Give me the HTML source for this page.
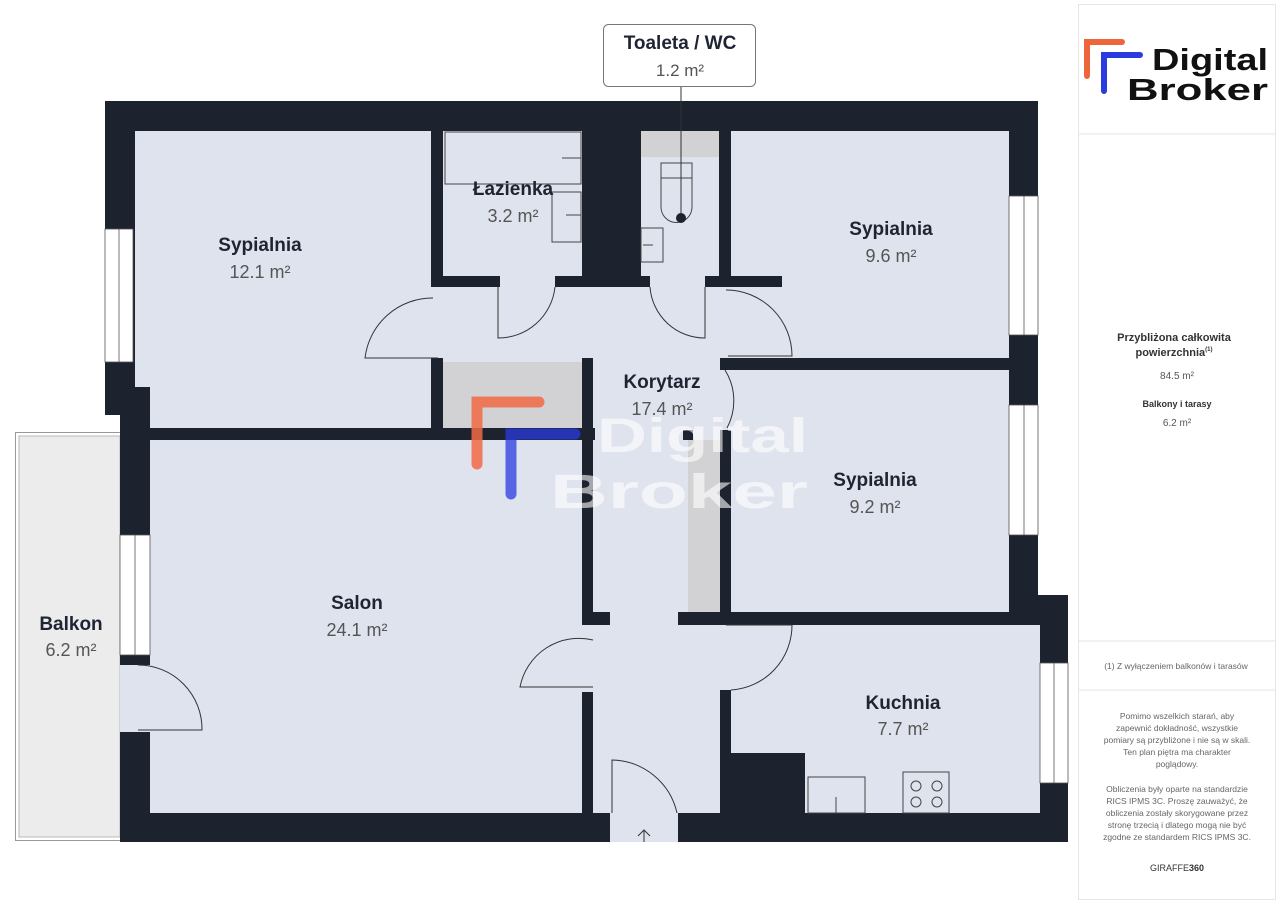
<!DOCTYPE html>
<html><head><meta charset="utf-8"><style>
html,body{margin:0;padding:0;background:#fff;}
body{width:1280px;height:905px;overflow:hidden;font-family:"Liberation Sans",sans-serif;}
</style></head><body>
<svg width="1280" height="905" viewBox="0 0 1280 905" xmlns="http://www.w3.org/2000/svg" font-family="Liberation Sans, sans-serif">
<rect width="1280" height="905" fill="#fff"/>
<!-- right panel -->
<rect x="1078.5" y="4.5" width="197" height="895" fill="#fff" stroke="#e6e6e6"/>
<line x1="1079" y1="134" x2="1275" y2="134" stroke="#e6e6e6"/>
<line x1="1079" y1="641" x2="1275" y2="641" stroke="#e6e6e6"/>
<line x1="1079" y1="690" x2="1275" y2="690" stroke="#e6e6e6"/>
<path d="M1087 76 V42 H1122" stroke="#f0643c" stroke-width="6" fill="none" stroke-linecap="round"/>
<path d="M1104 91 V55 H1140" stroke="#2a3be0" stroke-width="6" fill="none" stroke-linecap="round"/>
<text x="1152" y="70" font-size="31" font-weight="bold" fill="#111" textLength="116" lengthAdjust="spacingAndGlyphs">Digital</text>
<text x="1127" y="100" font-size="31" font-weight="bold" fill="#111" textLength="141" lengthAdjust="spacingAndGlyphs">Broker</text>
<g text-anchor="middle" fill="#333">
<text x="1174" y="341" font-size="11" font-weight="bold">Przybliżona całkowita</text>
<text x="1174" y="356" font-size="11" font-weight="bold">powierzchnia<tspan font-size="6" dy="-5">(1)</tspan></text>
<text x="1177" y="379" font-size="10" fill="#555">84.5 m²</text>
<text x="1177" y="407" font-size="9" font-weight="bold">Balkony i tarasy</text>
<text x="1177" y="426" font-size="10" fill="#555">6.2 m²</text>
<text x="1176" y="669" font-size="8.5" fill="#666">(1) Z wyłączeniem balkonów i tarasów</text>
<g font-size="8.5" fill="#666">
<text x="1177" y="719">Pomimo wszelkich starań, aby</text>
<text x="1177" y="731">zapewnić dokładność, wszystkie</text>
<text x="1177" y="743">pomiary są przybliżone i nie są w skali.</text>
<text x="1177" y="755">Ten plan piętra ma charakter</text>
<text x="1177" y="767">poglądowy.</text>
<text x="1177" y="792">Obliczenia były oparte na standardzie</text>
<text x="1177" y="804">RICS IPMS 3C. Proszę zauważyć, że</text>
<text x="1177" y="816">obliczenia zostały skorygowane przez</text>
<text x="1177" y="828">stronę trzecią i dlatego mogą nie być</text>
<text x="1177" y="840">zgodne ze standardem RICS IPMS 3C.</text>
</g>
<text x="1177" y="871" font-size="9" fill="#333">GIRAFFE<tspan font-weight="bold">360</tspan></text>
</g>

<!-- balcony -->
<rect x="15.5" y="432.5" width="105" height="408" fill="#fff" stroke="#999"/>
<rect x="19" y="436" width="101" height="401" fill="#ececec" stroke="#aaa" stroke-width="0.8"/>

<!-- footprint -->
<polygon points="105,101 1038,101 1038,595 1068,595 1068,842 120,842 120,415 105,415" fill="#1c222e"/>
<!-- light interior -->
<rect x="135" y="131" width="874" height="297" fill="#dfe3ee"/>
<rect x="150" y="387" width="460" height="426" fill="#dfe3ee"/>
<rect x="595" y="287" width="136" height="526" fill="#dfe3ee"/>
<rect x="731" y="370" width="278" height="242" fill="#dfe3ee"/>
<rect x="731" y="612" width="309" height="201" fill="#dfe3ee"/>
<rect x="610" y="813" width="68" height="29" fill="#dfe3ee"/>

<!-- gray storage -->
<rect x="443" y="362" width="139" height="66" fill="#d2d2d4"/>
<rect x="688" y="440" width="32" height="172" fill="#d2d2d4"/>
<rect x="641" y="131" width="78" height="26" fill="#d2d2d4"/>

<g fill="#1c222e">
<rect x="582" y="131" width="59" height="156"/>
<rect x="431" y="131" width="12" height="156"/>
<rect x="431" y="276" width="69" height="11"/>
<rect x="555" y="276" width="86" height="11"/>
<rect x="641" y="276" width="9" height="11"/>
<rect x="705" y="276" width="77" height="11"/>
<rect x="719" y="131" width="12" height="156"/>
<rect x="720" y="358" width="289" height="12"/>
<rect x="431" y="358" width="12" height="82"/>
<rect x="135" y="428" width="460" height="12"/>
<rect x="135" y="387" width="15" height="53"/>
<rect x="582" y="358" width="11" height="254"/>
<rect x="582" y="612" width="28" height="13"/>
<rect x="582" y="692" width="11" height="121"/>
<rect x="683" y="430" width="10" height="10"/>
<rect x="720" y="430" width="11" height="182"/>
<rect x="678" y="612" width="362" height="13"/>
<rect x="720" y="690" width="11" height="123"/>
<rect x="720" y="753" width="85" height="60"/>
<rect x="120" y="440" width="30" height="373"/>
<rect x="1009" y="131" width="29" height="481"/>
<rect x="1040" y="595" width="28" height="247"/>
<rect x="120" y="813" width="490" height="29"/>
<rect x="678" y="813" width="390" height="29"/>
</g>
<!-- door gap at salon left -->
<rect x="120" y="665" width="30" height="67" fill="#dfe3ee"/>

<!-- windows -->
<g fill="#fff" stroke="#555" stroke-width="0.8">
<rect x="105" y="229" width="28" height="133"/>
<line x1="119" y1="229" x2="119" y2="362"/>
<rect x="120" y="535" width="30" height="120"/>
<line x1="135" y1="535" x2="135" y2="655"/>
<rect x="1009" y="196" width="29" height="139"/>
<line x1="1024" y1="196" x2="1024" y2="335"/>
<rect x="1009" y="405" width="29" height="130"/>
<line x1="1024" y1="405" x2="1024" y2="535"/>
<rect x="1040" y="663" width="28" height="120"/>
<line x1="1054" y1="663" x2="1054" y2="783"/>
</g>

<!-- doors -->
<g fill="none" stroke="#333" stroke-width="1">
<path d="M433 298 A68 68 0 0 0 365 358 H438"/>
<path d="M498 287 V338 A57 57 0 0 0 555 287"/>
<path d="M650 287 A55 55 0 0 0 705 338 V287"/>
<path d="M726 290 A66 66 0 0 1 792 356 H728"/>
<path d="M725 370 A58 58 0 0 1 727 428"/>
<path d="M138 665 A64 64 0 0 1 202 730 H138"/>
<path d="M593 640 A60 60 0 0 0 520 687 H593"/>
<path d="M726 625 H792 A65 65 0 0 1 731 690"/>
<path d="M612 813 V760 A68 68 0 0 1 677 813"/>
<path d="M644 842 V830 M638 836 L644 830 L650 836"/>
</g>

<!-- fixtures -->
<g fill="none" stroke="#444" stroke-width="1">
<rect x="445" y="132" width="136" height="52"/>
<line x1="562" y1="158" x2="581" y2="158"/>
<rect x="552" y="192" width="29" height="50"/>
<line x1="566" y1="215" x2="581" y2="215"/>
<rect x="641" y="228" width="22" height="34"/>
<line x1="643" y1="245" x2="653" y2="245"/>
<path d="M661 163 H692 V207 A15 15 0 0 1 661 207 Z"/>
<line x1="661" y1="178" x2="692" y2="178"/>
<rect x="808" y="777" width="57" height="36"/>
<line x1="836" y1="797" x2="836" y2="813"/>
<rect x="903" y="772" width="46" height="41"/>
<circle cx="916" cy="786" r="5"/><circle cx="937" cy="786" r="5"/>
<circle cx="916" cy="802" r="5"/><circle cx="937" cy="802" r="5"/>
</g>
<line x1="681" y1="87" x2="681" y2="218" stroke="#333"/>
<circle cx="681" cy="218" r="5" fill="#1c222e"/>

<!-- toilet label -->
<rect x="603.5" y="24.5" width="152" height="62" rx="5" fill="#fff" stroke="#777"/>
<text x="680" y="49" text-anchor="middle" font-size="19" font-weight="bold" fill="#1f2433">Toaleta / WC</text>
<text x="680" y="76" text-anchor="middle" font-size="17" fill="#555">1.2 m²</text>

<!-- watermark -->
<path d="M477 464 V402 H539" stroke="#f26a45" stroke-opacity="0.85" stroke-width="11" fill="none" stroke-linecap="round"/>
<path d="M511 494 V434 H575" stroke="#2a3be0" stroke-opacity="0.75" stroke-width="11" fill="none" stroke-linecap="round"/>
<text x="597" y="452" font-size="48" font-weight="bold" fill="#fff" fill-opacity="0.6" textLength="211" lengthAdjust="spacingAndGlyphs">Digital</text>
<text x="550" y="508" font-size="48" font-weight="bold" fill="#fff" fill-opacity="0.6" textLength="258" lengthAdjust="spacingAndGlyphs">Broker</text>

<!-- room labels -->
<g text-anchor="middle">
<g font-size="19" font-weight="bold" fill="#1f2433">
<text x="260" y="251">Sypialnia</text>
<text x="513" y="195">Łazienka</text>
<text x="891" y="235">Sypialnia</text>
<text x="662" y="388">Korytarz</text>
<text x="875" y="486">Sypialnia</text>
<text x="357" y="609">Salon</text>
<text x="71" y="630">Balkon</text>
<text x="903" y="709">Kuchnia</text>
</g>
<g font-size="18" fill="#555">
<text x="260" y="278">12.1 m²</text>
<text x="513" y="222">3.2 m²</text>
<text x="891" y="262">9.6 m²</text>
<text x="662" y="415">17.4 m²</text>
<text x="875" y="513">9.2 m²</text>
<text x="357" y="636">24.1 m²</text>
<text x="71" y="656">6.2 m²</text>
<text x="903" y="735">7.7 m²</text>
</g>
</g>
</svg>
</body></html>
